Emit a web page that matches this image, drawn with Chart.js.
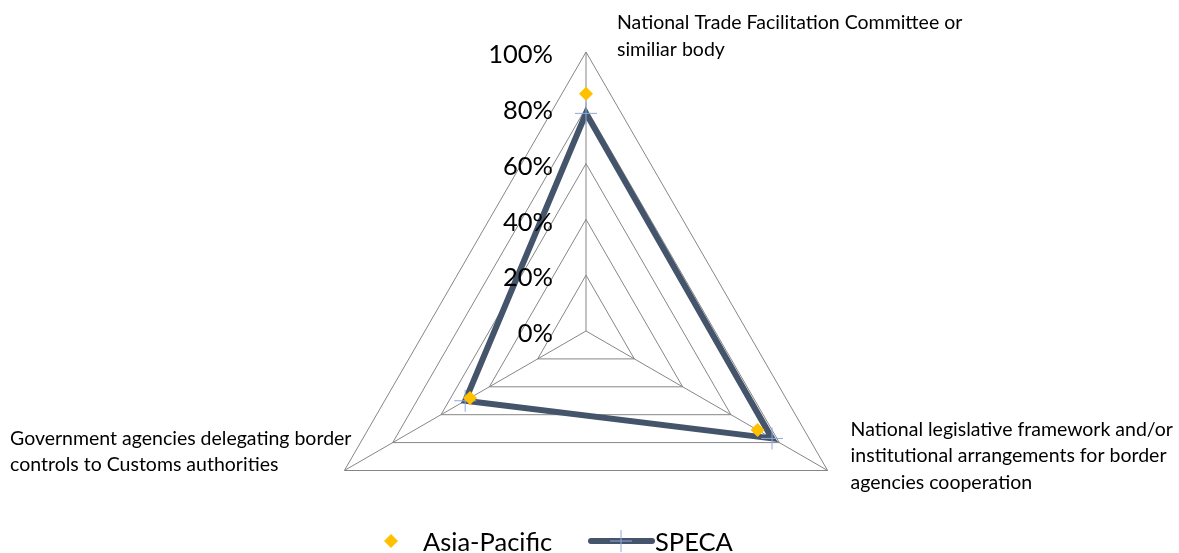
<!DOCTYPE html>
<html>
<head>
<meta charset="utf-8">
<script src="https://cdn.jsdelivr.net/npm/chart.js@4/dist/chart.umd.min.js"></script>
<style>
	html, body { margin: 0; padding: 0; background: #fff; overflow: hidden; }
	#wrap { position: relative; width: 1179px; height: 610px; }
</style>
</head>
<body>
<div id="wrap"><canvas id="mycanvas"></canvas></div>
<script>
var categories = [
	'National Trade Facilitation Committee or similiar body',
	'National legislative framework and/or institutional arrangements for border agencies cooperation',
	'Government agencies delegating border controls to Customs authorities'
];
// wrapped the way they show on the chart
var categoryLines = [
	['National Trade Facilitation Committee or', 'similiar body'],
	['National legislative framework and/or', 'institutional arrangements for border', 'agencies cooperation'],
	['Government agencies delegating border', 'controls to Customs authorities']
];
var asiaPacific = [0.85, 0.71, 0.48];
var speca = [0.78, 0.77, 0.50];
var tickValues = [0, 0.2, 0.4, 0.6, 0.8, 1];
var tickLabels = ['0%', '20%', '40%', '60%', '80%', '100%'];

var FONT = 'Lato, "Open Sans", sans-serif';

// tick labels, category labels and legend drawn by hand
var extras = {
	id: 'extras',
	afterDraw: function(chart) {
		var ctx = chart.ctx;
		var scale = chart.scales.r;
		ctx.save();
		ctx.fillStyle = '#000';

		// ticks, left of the vertical axis
		ctx.font = '25.5px ' + FONT;
		ctx.textAlign = 'right';
		ctx.textBaseline = 'middle';
		for (var i = 0; i < tickValues.length; i++) {
			var d = scale.getDistanceFromCenterForValue(tickValues[i]);
			ctx.fillText(tickLabels[i], scale.xCenter - 33, scale.yCenter - d + 3);
		}

		// category labels
		ctx.font = '19.5px ' + FONT;
		ctx.textAlign = 'left';
		var offs = [[31, -29], [23, -41], [null, -32]];
		for (var j = 0; j < categoryLines.length; j++) {
			var p = scale.getPointPosition(j, scale.drawingArea);
			var x = offs[j][0] === null ? 10 : p.x + offs[j][0];
			var y = p.y + offs[j][1];
			for (var k = 0; k < categoryLines[j].length; k++) {
				ctx.fillText(categoryLines[j][k], x, y + k * 26.5);
			}
		}

		// legend
		var ly = 541;
		var ds0 = chart.data.datasets[0];
		var ds1 = chart.data.datasets[1];
		ctx.fillStyle = ds0.pointBackgroundColor;
		ctx.beginPath();
		ctx.moveTo(391, ly - 7);
		ctx.lineTo(398, ly);
		ctx.lineTo(391, ly + 7);
		ctx.lineTo(384, ly);
		ctx.closePath();
		ctx.fill();

		ctx.strokeStyle = ds1.borderColor;
		ctx.lineWidth = 6;
		ctx.lineCap = 'round';
		ctx.beginPath();
		ctx.moveTo(591, ly);
		ctx.lineTo(652, ly);
		ctx.stroke();
		ctx.strokeStyle = ds1.pointBorderColor;
		ctx.lineWidth = 1;
		ctx.lineCap = 'butt';
		ctx.beginPath();
		ctx.moveTo(610, ly);
		ctx.lineTo(632, ly);
		ctx.moveTo(621, ly - 11);
		ctx.lineTo(621, ly + 11);
		ctx.stroke();

		ctx.fillStyle = '#000';
		ctx.font = '25.5px ' + FONT;
		ctx.textAlign = 'left';
		ctx.fillText('Asia-Pacific', 423, ly + 2);
		ctx.fillText('SPECA', 655, ly + 2);
		ctx.restore();
	}
};

var ctx = document.getElementById('mycanvas');

var radarChart = new Chart(ctx, {
	type: 'radar',
	data: {
		labels: categories,
		datasets: [
			{
				label: 'Asia-Pacific',
				data: asiaPacific,
				showLine: false,
				pointStyle: 'rectRot',
				pointRadius: 7,
				pointBackgroundColor: '#FFC000',
				pointBorderColor: '#FFC000',
				pointBorderWidth: 0,
				backgroundColor: 'transparent',
				borderColor: '#FFC000'
			},
			{
				label: 'SPECA',
				data: speca,
				fill: false,
				borderColor: '#44546A',
				borderWidth: 6,
				borderJoinStyle: 'miter',
				backgroundColor: 'transparent',
				pointStyle: 'cross',
				pointRadius: 11,
				pointBorderColor: '#8EA9DB',
				pointBackgroundColor: '#8EA9DB',
				pointBorderWidth: 1
			}
		]
	},
	options: {
		responsive: true,
		maintainAspectRatio: false,
		animation: false,
		layout: { padding: { top: 52, left: 0, right: 7, bottom: 0 } },
		plugins: {
			legend: { display: false },
			tooltip: { enabled: false }
		},
		elements: { line: { tension: 0 } },
		scales: {
			r: {
				min: 0,
				max: 1,
				ticks: { stepSize: 0.2, display: false },
				grid: { color: '#868686', lineWidth: 1 },
				angleLines: { color: '#868686', lineWidth: 1 },
				pointLabels: { display: false }
			}
		}
	},
	plugins: [extras]
});
</script>
</body>
</html>
